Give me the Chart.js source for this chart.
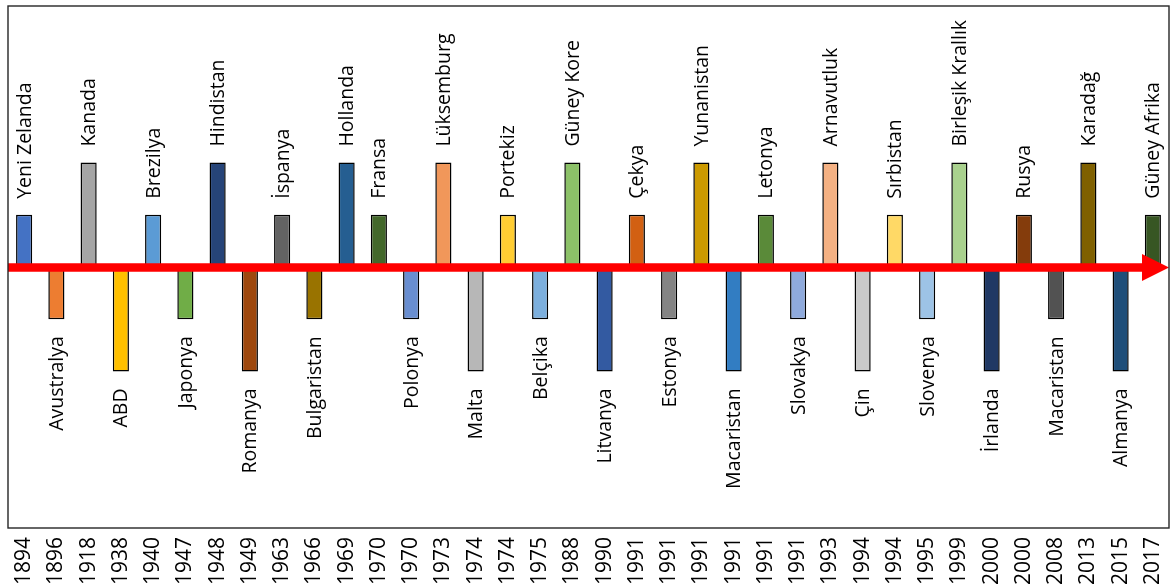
<!DOCTYPE html>
<html>
<head>
<meta charset="utf-8">
<script src="https://cdn.jsdelivr.net/npm/chart.js@4"></script>
<style>
  html, body { margin: 0; padding: 0; background: #fff; overflow: hidden; }
  #wrap { width: 1170px; height: 587px; position: relative; }
</style>
</head>
<body>
<div id="wrap"><canvas id="c"></canvas></div>
<script>
const years = ['1894','1896','1918','1938','1940','1947','1948','1949','1963','1966','1969','1970',
  '1970','1973','1974','1974','1975','1988','1990','1991','1991','1991','1991','1991',
  '1991','1993','1994','1994','1995','1999','2000','2000','2008','2013','2015','2017'];
const countries = ['Yeni Zelanda','Avustralya','Kanada','ABD','Brezilya','Japonya','Hindistan','Romanya',
  'İspanya','Bulgaristan','Hollanda','Fransa','Polonya','Lüksemburg','Malta','Portekiz','Belçika',
  'Güney Kore','Litvanya','Çekya','Estonya','Yunanistan','Macaristan','Letonya','Slovakya',
  'Arnavutluk','Çin','Sırbistan','Slovenya','Birleşik Krallık','İrlanda','Rusya','Macaristan',
  'Karadağ','Almanya','Güney Afrika'];
const levels = [1,-1,2,-2,1,-1,2,-2,1,-1,2,1,-1,2,-2,1,-1,2,-2,1,-1,2,-2,1,-1,2,-2,1,-1,2,-2,1,-1,2,-2,1];
const barColors = ['#4472C4','#ED7D31','#A5A5A5','#FFC000','#5B9BD5','#70AD47',
  '#264478','#9E480E','#636363','#997300','#255E91','#43682B',
  '#698ED0','#F1975A','#B7B7B7','#FFCD33','#7CAFDD','#8CC168',
  '#335AA1','#D26012','#848484','#CC9A00','#327DC2','#5A8A39',
  '#8FAADC','#F4B183','#C9C9C9','#FFD966','#9DC3E6','#A9D18E',
  '#203864','#843C0C','#525252','#7F6000','#1F4E79','#375623'];

const FONT = '"Open Sans", "Noto Sans", sans-serif';

const decorPlugin = {
  id: 'decor',
  afterDatasetsDraw(chart) {
    const ctx = chart.ctx;
    const a = chart.chartArea;
    const meta = chart.getDatasetMeta(0);
    const y0 = chart.scales.y.getPixelForValue(0);
    // country labels
    ctx.save();
    ctx.fillStyle = '#000';
    ctx.font = '19.5px ' + FONT;
    ctx.textBaseline = 'middle';
    meta.data.forEach((el, i) => {
      const v = levels[i];
      ctx.save();
      if (v >= 0) {
        ctx.translate(el.x + 1, el.y - 16);
        ctx.rotate(-Math.PI / 2);
        ctx.textAlign = 'left';
      } else {
        ctx.translate(el.x + 1, el.y + 17);
        ctx.rotate(-Math.PI / 2);
        ctx.textAlign = 'right';
      }
      ctx.fillText(countries[i], 0, 0);
      ctx.restore();
    });
    ctx.restore();
    // red arrow axis
    ctx.save();
    ctx.strokeStyle = '#FF0000';
    ctx.fillStyle = '#FF0000';
    ctx.lineWidth = 8.5;
    ctx.beginPath();
    ctx.moveTo(a.left, y0 + 0.5);
    ctx.lineTo(a.right - 24, y0 + 0.5);
    ctx.stroke();
    ctx.beginPath();
    ctx.moveTo(a.right - 27, y0 - 13);
    ctx.lineTo(a.right, y0 + 0.5);
    ctx.lineTo(a.right - 27, y0 + 14);
    ctx.closePath();
    ctx.fill();
    ctx.restore();
    // plot border
    ctx.save();
    ctx.strokeStyle = '#262626';
    ctx.lineWidth = 1.4;
    ctx.strokeRect(a.left, a.top, a.right - a.left, a.bottom - a.top);
    ctx.restore();
  }
};

new Chart(document.getElementById('c'), {
  type: 'bar',
  data: {
    labels: years,
    datasets: [{
      data: levels,
      backgroundColor: barColors,
      borderColor: '#000',
      borderWidth: 1.5,
      borderSkipped: false,
      barPercentage: 0.5,
      categoryPercentage: 1.0
    }]
  },
  options: {
    responsive: true,
    maintainAspectRatio: false,
    animation: false,
    layout: { padding: { left: 8, top: 6, right: 1, bottom: 0 } },
    plugins: { legend: { display: false }, tooltip: { enabled: false } },
    scales: {
      x: {
        grid: { display: false, drawTicks: false },
        border: { display: false },
        ticks: {
          autoSkip: false,
          minRotation: 90,
          maxRotation: 90,
          padding: 9,
          color: '#000',
          font: { family: FONT, size: 21 }
        },
        afterFit: (s) => { s.height = 59; s.paddingLeft = 0; s.paddingRight = 0; }
      },
      y: {
        display: false,
        min: -5,
        max: 5
      }
    }
  },
  plugins: [decorPlugin]
});
</script>
</body>
</html>
